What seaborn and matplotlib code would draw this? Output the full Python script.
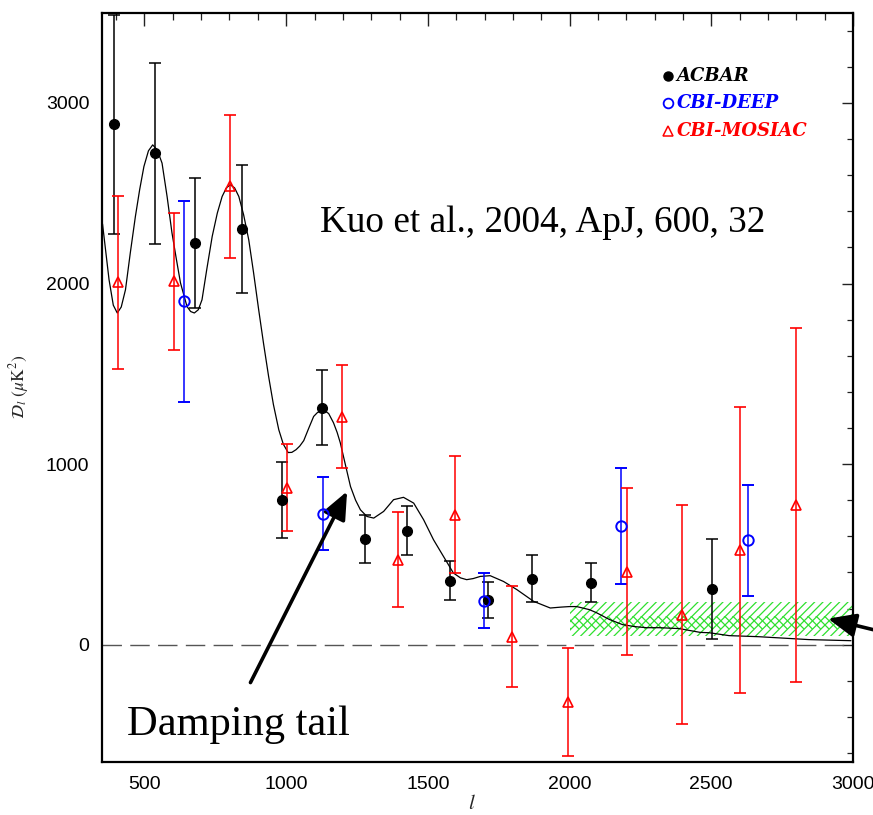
import numpy as np
import pandas as pd
import matplotlib
matplotlib.use("Agg")
import matplotlib.pyplot as plt
from matplotlib.ticker import MultipleLocator
import seaborn as sns

# ---- data -------------------------------------------------------------
# best-fit model band power curve
model_ell = [352, 375, 390, 404, 418, 433, 450, 468, 483, 498, 514, 529, 545, 562,
             580, 597, 612, 627, 650, 663, 676, 690, 703, 720, 739, 757, 774, 789,
             803, 818, 833, 850, 868, 885, 903, 920, 938, 955, 974, 990, 1007, 1020,
             1035, 1048, 1062, 1080, 1097, 1110, 1131, 1150, 1167, 1180, 1191, 1210,
             1227, 1245, 1262, 1285, 1309, 1344, 1379, 1414, 1450, 1485, 1520, 1555,
             1590, 1615, 1637, 1660, 1685, 1720, 1767, 1814, 1873, 1932, 1970, 2000,
             2025, 2070, 2095, 2140, 2187, 2230, 2271, 2317, 2387, 2461, 2493, 2563,
             2669, 2845, 2993]
model_dl = [2330, 2021, 1880, 1837, 1870, 1966, 2170, 2372, 2520, 2648, 2735, 2768,
            2740, 2667, 2480, 2281, 2140, 2004, 1873, 1845, 1837, 1855, 1910, 2080,
            2261, 2390, 2482, 2530, 2547, 2530, 2482, 2380, 2242, 2060, 1855, 1670,
            1486, 1330, 1190, 1110, 1064, 1065, 1080, 1100, 1130, 1200, 1264, 1285,
            1301, 1280, 1229, 1175, 1118, 990, 876, 800, 747, 710, 701, 738, 803,
            816, 784, 692, 581, 489, 397, 370, 360, 366, 378, 382, 350, 305, 240,
            203, 208, 211, 211, 194, 177, 140, 111, 100, 94, 94, 89, 68, 66, 50, 44,
            28, 22]

acbar_ell = [391, 537, 680, 844, 986, 1127, 1278, 1426, 1577, 1711, 1866, 2077, 2504]
acbar_dl = [2881, 2722, 2224, 2303, 803, 1313, 587, 632, 355, 249, 366, 343, 308]
acbar_err = [607, 502, 360, 355, 210, 208, 133, 136, 108, 100, 130, 108, 276]

deep_ell = [641, 1130, 1697, 2180, 2631]
deep_dl = [1901, 726, 244, 659, 578]
deep_err = [555, 200, 152, 322, 307]

mosaic_ell = [405, 605, 803, 1003, 1197, 1394, 1595, 1796, 1994, 2201, 2398, 2600, 2799]
mosaic_dl = [2006, 2012, 2538, 870, 1263, 471, 720, 44, -316, 404, 166, 526, 775]
mosaic_err = [477, 378, 397, 241, 285, 263, 325, 280, 299, 462, 606, 793, 980]

# excess-power band at high l
band_ell = [2000, 3000]
band_outer = (50, 234)
band_inner = (87, 160)

legend_names = ["ACBAR", "CBI-DEEP", "CBI-MOSIAC"]
legend_colors = ["black", "blue", "red"]

# ---- style ------------------------------------------------------------
sns.set_theme(style="white")
plt.rcParams["font.family"] = ["Liberation Sans", "DejaVu Sans"]
plt.rcParams["mathtext.fontset"] = "stix"
plt.rcParams["hatch.linewidth"] = 0.9

fig = plt.figure(figsize=(8.73, 8.15), dpi=100)
ax = fig.add_axes([0.1168, 0.0650, 0.8602, 0.9194])

green = "#2fe02f"
ax.fill_between(band_ell, band_outer[0], band_outer[1], facecolor="none",
                edgecolor=green, hatch="////", linewidth=0, zorder=1)
ax.fill_between(band_ell, band_inner[0], band_inner[1], facecolor="none",
                edgecolor=green, hatch="\\\\\\\\", linewidth=0, zorder=1)

ax.axhline(0, color="#555555", lw=1.0, dashes=(14, 6), zorder=1)

model_df = pd.DataFrame({"ell": model_ell, "dl": model_dl})
sns.lineplot(data=model_df, x="ell", y="dl", color="black", lw=0.9,
             estimator=None, ax=ax, zorder=2)

eb = dict(capsize=4, elinewidth=1.1, capthick=1.1, zorder=3, linestyle="none")
ax.errorbar(acbar_ell, acbar_dl, yerr=acbar_err, fmt="o", color="black",
            ms=7, **eb)
ax.errorbar(deep_ell, deep_dl, yerr=deep_err, fmt="o", color="blue",
            mfc="none", mec="blue", ms=7.5, mew=1.4, **eb)
ax.errorbar(mosaic_ell, mosaic_dl, yerr=mosaic_err, fmt="^", color="red",
            mfc="none", mec="red", ms=7, mew=1.2, **eb)

# legend drawn as symbols + labels
legend_y = [0.9159, 0.8799, 0.8422]
ax.plot(0.7537, legend_y[0], "o", color="black", ms=6.5, transform=ax.transAxes)
ax.plot(0.7537, legend_y[1], "o", mfc="none", mec="blue", mew=1.3, ms=7,
        transform=ax.transAxes)
ax.plot(0.7537, legend_y[2], "^", mfc="none", mec="red", mew=1.1, ms=6.5,
        transform=ax.transAxes)
for name, col, yy in zip(legend_names, legend_colors, legend_y):
    ax.text(0.7656, yy, name, color=col, transform=ax.transAxes, va="center",
            ha="left", fontsize=13, fontweight="bold", fontstyle="italic",
            family="DejaVu Serif")

ax.text(1121, 2287, "Kuo et al., 2004, ApJ, 600, 32", family="Liberation Serif",
        fontsize=26.8, va="baseline", ha="left", color="black")
ax.text(440, -498, "Damping tail", family="Liberation Serif",
        fontsize=30.6, va="baseline", ha="left", color="black")

arrow = dict(arrowstyle="-|>,head_length=0.7,head_width=0.3", lw=2.6,
             color="black", mutation_scale=24, shrinkA=0, shrinkB=0)
ax.annotate("", xy=(1215, 849), xytext=(874, -210), arrowprops=arrow)
ax.annotate("", xy=(2912, 144), xytext=(3166, 47), arrowprops=arrow,
            annotation_clip=False)

# axes
ax.set_xlim(350, 3000)
ax.set_ylim(-650, 3500)
ax.xaxis.set_major_locator(MultipleLocator(500))
ax.xaxis.set_minor_locator(MultipleLocator(100))
ax.yaxis.set_major_locator(MultipleLocator(1000))
ax.yaxis.set_minor_locator(MultipleLocator(200))
ax.tick_params(which="both", direction="in", top=True, right=True,
               colors="#222222", labelcolor="black")
ax.tick_params(axis="x", which="major", length=9, width=1.0, labelsize=14, pad=10)
ax.tick_params(axis="x", which="minor", length=5, width=0.9)
ax.tick_params(axis="y", which="major", length=8, width=1.0, labelsize=14, pad=9)
ax.tick_params(axis="y", which="minor", length=4.5, width=0.9)
for s in ax.spines.values():
    s.set_linewidth(1.6)
    s.set_color("black")

ax.set_xlabel("")
ax.set_ylabel(r"$\mathcal{D}_l\ (\mu\mathrm{K}^2)$", fontsize=12.5)
ax.yaxis.set_label_coords(-0.095, 0.5)
fig.text(472 / 873, 2 / 815, r"$l$", fontsize=15, va="bottom", ha="center")

fig.savefig("out.png", dpi=100)
